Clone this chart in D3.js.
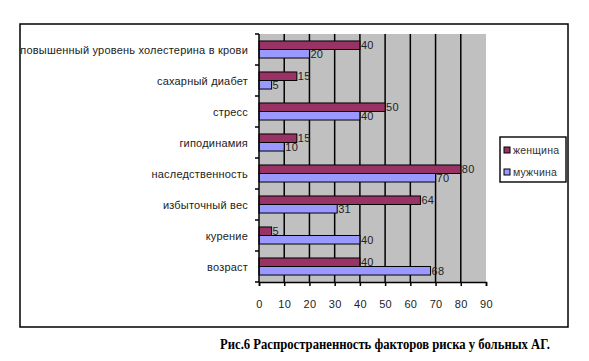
<!DOCTYPE html>
<html><head><meta charset="utf-8">
<script src="https://cdn.jsdelivr.net/npm/d3@7/dist/d3.min.js"></script>
<style>
body{margin:0;background:#fff;}
svg text{font-family:"Liberation Sans",Arial,sans-serif;}
</style></head><body>
<svg id="c" width="589" height="361"></svg>
<script>
const categories = ["повышенный уровень холестерина в крови","сахарный диабет","стресс","гиподинамия","наследственность","избыточный вес","курение","возраст"];
const seriesNames = ["женщина","мужчина"];
const women = [40,15,50,15,80,64,5,40];
const men = [20,5,40,10,70,31,40,68];
const xTicks = [0,10,20,30,40,50,60,70,80,90];
const colors = ["#993366","#9999ff"];
const caption = "Рис.6 Распространенность факторов риска у больных АГ.";

const svg = d3.select("#c");
const L=259, R=486, T=34, B=282;
const FONT = "'Liberation Sans',Arial,sans-serif";

// outer frame
svg.append("rect").attr("x",20).attr("y",24).attr("width",548).attr("height",303)
  .attr("fill","none").attr("stroke","#000").attr("stroke-width",1.5);

const x = d3.scaleLinear().domain([0,90]).range([L,R]);
const y = d3.scaleBand().domain(categories).range([T,B]).paddingInner(0.45).paddingOuter(0.225);
const ySub = d3.scaleBand().domain(seriesNames).range([0,y.bandwidth()]);

svg.append("rect").attr("x",L).attr("y",T).attr("width",R-L).attr("height",B-T).attr("fill","#c0c0c0");

// gridlines
svg.append("g").selectAll("line").data(xTicks.filter(d=>d>0 && d<90)).join("line")
  .attr("x1",d=>x(d)).attr("x2",d=>x(d)).attr("y1",T).attr("y2",B)
  .attr("stroke","#000").attr("stroke-width",1.5);

const data = [women, men];
const g = svg.append("g");
categories.forEach((c,i)=>{
  seriesNames.forEach((s,j)=>{
    const v = data[j][i];
    const yy = y(c)+ySub(s);
    g.append("rect").attr("x",x(0)).attr("y",yy).attr("width",x(v)-x(0)).attr("height",ySub.bandwidth())
      .attr("fill",colors[j]).attr("stroke","#000").attr("stroke-width",1);
    g.append("text").attr("x",x(v)+1).attr("y",yy+ySub.bandwidth()/2+4)
      .attr("font-size",11).attr("letter-spacing","0.3px").attr("fill","#222").text(v);
  });
});

// y axis
svg.append("line").attr("x1",L).attr("x2",L).attr("y1",T).attr("y2",B).attr("stroke","#000").attr("stroke-width",1.5);
const bounds = d3.range(categories.length+1).map(i=>T+i*y.step());
svg.append("g").selectAll("line").data(bounds).join("line")
  .attr("x1",L-4).attr("x2",L).attr("y1",d=>d).attr("y2",d=>d).attr("stroke","#000").attr("stroke-width",1.5);
svg.append("g").selectAll("text").data(categories).join("text")
  .attr("x",248).attr("y",d=>y(d)+y.bandwidth()/2+4).attr("text-anchor","end")
  .attr("font-size",11).attr("letter-spacing","0.2px").attr("fill","#222").text(d=>d);

// x axis
const xAxis = d3.axisBottom(x).tickValues(xTicks).tickSize(4).tickPadding(14).tickFormat(d3.format("d"));
const ax = svg.append("g").attr("transform",`translate(0,${B})`).call(xAxis);
ax.select(".domain").attr("stroke","#000").attr("stroke-width",1.5);
ax.selectAll(".tick line").attr("stroke","#000").attr("stroke-width",1.5);
ax.selectAll(".tick text").attr("font-size",11).attr("letter-spacing","0.3px").attr("fill","#222")
  .style("font-family",FONT);

// legend
svg.append("rect").attr("x",500).attr("y",137).attr("width",66).attr("height",45)
  .attr("fill","#fff").attr("stroke","#000").attr("stroke-width",1.4);
seriesNames.forEach((s,j)=>{
  const ly = 150 + j*22;
  svg.append("rect").attr("x",504).attr("y",ly-3).attr("width",6).attr("height",6)
    .attr("fill",colors[j]).attr("stroke","#000").attr("stroke-width",1);
  svg.append("text").attr("x",513).attr("y",ly+4).attr("font-size",10.5).attr("letter-spacing","0.2px")
    .attr("fill","#333").text(s);
});

// caption
svg.append("text").attr("x",385).attr("y",349).attr("text-anchor","middle")
  .attr("font-size",14).attr("font-weight","bold")
  .style("font-family","'Liberation Serif','Times New Roman',serif")
  .attr("textLength",330).attr("lengthAdjust","spacingAndGlyphs")
  .text(caption);
</script>
</body></html>
